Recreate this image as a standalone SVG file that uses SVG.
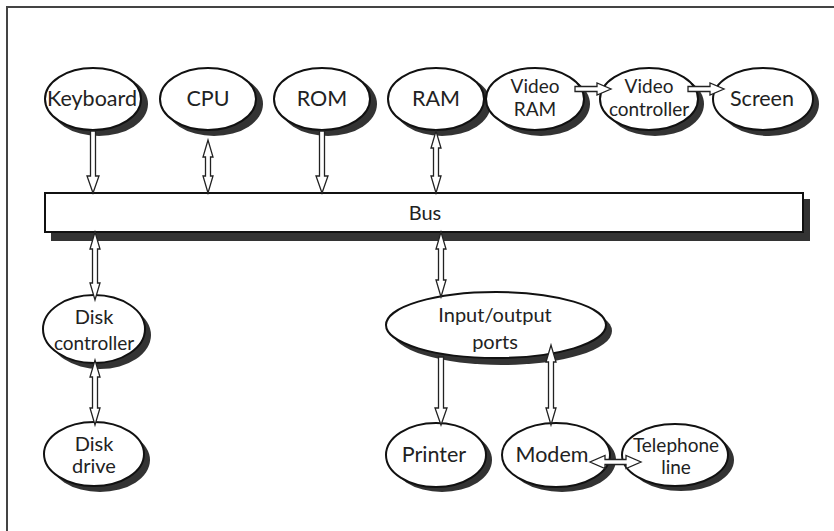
<svg xmlns="http://www.w3.org/2000/svg" width="834" height="531" viewBox="0 0 834 531">
<style>
.sh{fill:#333;}
.nd{fill:#fff;stroke:#111;stroke-width:2;}
.t{font-family:Lato,"Liberation Sans",sans-serif;font-size:20px;fill:#222;text-anchor:middle;}
.t1{font-size:21.5px;}
.t2{font-size:19px;}
.ar{fill:#fff;stroke:#222;stroke-width:1.3;stroke-linejoin:miter;}
.fr{stroke:#444;stroke-width:2;fill:none;}
</style>
<rect width="834" height="531" fill="#fff"/>
<path class="fr" d="M7 531 V7 H834"/>

<g id="bus">
<rect class="sh" x="51" y="199" width="759" height="42"/>
<rect class="nd" x="45" y="193" width="758" height="39" stroke-width="1.5"/>
<text class="t" x="425" y="220">Bus</text>
</g>

<g id="keyboard">
<ellipse class="sh" cx="99" cy="104" rx="49" ry="32"/>
<ellipse class="nd" cx="93" cy="99" rx="48" ry="31"/>
<text class="t t1" x="92" y="106">Keyboard</text>
</g>
<g id="cpu">
<ellipse class="sh" cx="214" cy="104" rx="49" ry="32"/>
<ellipse class="nd" cx="208" cy="99" rx="48" ry="31"/>
<text class="t t1" x="208" y="106">CPU</text>
</g>
<g id="rom">
<ellipse class="sh" cx="328" cy="104" rx="49" ry="32"/>
<ellipse class="nd" cx="322" cy="99" rx="48" ry="31"/>
<text class="t t1" x="322" y="106">ROM</text>
</g>
<g id="ram">
<ellipse class="sh" cx="442" cy="104" rx="49" ry="32"/>
<ellipse class="nd" cx="436" cy="99" rx="48" ry="31"/>
<text class="t t1" x="436" y="106">RAM</text>
</g>
<g id="videoram">
<ellipse class="sh" cx="541" cy="104" rx="49" ry="32"/>
<ellipse class="nd" cx="535" cy="99" rx="49" ry="31"/>
<text class="t t2" x="535" y="93">Video</text>
<text class="t t2" x="535" y="116">RAM</text>
</g>
<g id="videocontroller">
<ellipse class="sh" cx="655" cy="104" rx="49" ry="32"/>
<ellipse class="nd" cx="649" cy="99" rx="49" ry="31"/>
<text class="t t2" x="649" y="93">Video</text>
<text class="t t2" x="649" y="116">controller</text>
</g>
<g id="screen">
<ellipse class="sh" cx="769" cy="104" rx="50" ry="32"/>
<ellipse class="nd" cx="763" cy="99" rx="50" ry="31"/>
<text class="t t1" x="762" y="106">Screen</text>
</g>

<g id="diskcontroller">
<ellipse class="sh" cx="100" cy="335" rx="51" ry="34"/>
<ellipse class="nd" cx="94" cy="329" rx="51" ry="34"/>
<text class="t" x="94" y="324">Disk</text>
<text class="t t2" x="94" y="350">controller</text>
</g>
<g id="diskdrive">
<ellipse class="sh" cx="100" cy="460" rx="50" ry="32"/>
<ellipse class="nd" cx="94" cy="454" rx="50" ry="32"/>
<text class="t" x="94" y="451">Disk</text>
<text class="t" x="94" y="473">drive</text>
</g>
<g id="ioports">
<ellipse class="sh" cx="502" cy="331" rx="110" ry="34"/>
<ellipse class="nd" cx="496" cy="325" rx="110" ry="33"/>
<text class="t" x="495" y="322">Input/output</text>
<text class="t" x="495" y="349">ports</text>
</g>
<g id="printer">
<ellipse class="sh" cx="442" cy="460" rx="50" ry="32"/>
<ellipse class="nd" cx="436" cy="455" rx="50" ry="32"/>
<text class="t t1" x="434" y="462">Printer</text>
</g>
<g id="modem">
<ellipse class="sh" cx="562" cy="460" rx="54" ry="32"/>
<ellipse class="nd" cx="556" cy="455" rx="54" ry="32"/>
<text class="t t1" x="552" y="462">Modem</text>
</g>
<g id="telephone">
<ellipse class="sh" cx="681" cy="460" rx="53" ry="31"/>
<ellipse class="nd" cx="675" cy="455" rx="53" ry="31"/>
<text class="t t2" x="676" y="452">Telephone</text>
<text class="t t2" x="676" y="474">line</text>
</g>

<g id="connectors">
<path class="ar" d="M90.5 131 H95.5 V176 H99 L93 193 L87 176 H90.5 Z"/>
<path class="ar" d="M205.5 157 H203 L208 140 L213 157 H210.5 V176 H213 L208 193 L203 176 H205.5 Z"/>
<path class="ar" d="M319.5 131 H324.5 V176 H328 L322 193 L316 176 H319.5 Z"/>
<path class="ar" d="M433.5 148 H431 L436 131 L441 148 H438.5 V176 H441 L436 193 L431 176 H433.5 Z"/>
<path class="ar" d="M575 86.5 V91.5 H597 V95 L611 89 L597 83 V86.5 Z"/>
<path class="ar" d="M688 86.5 V91.5 H710 V95 L724 89 L710 83 V86.5 Z"/>
<path class="ar" d="M92.5 249 H90 L95 232 L100 249 H97.5 V283 H100 L95 300 L90 283 H92.5 Z"/>
<path class="ar" d="M92.5 377 H90 L95 360 L100 377 H97.5 V408 H100 L95 425 L90 408 H92.5 Z"/>
<path class="ar" d="M438.5 249 H436 L441 232 L446 249 H443.5 V280 H446 L441 297 L436 280 H438.5 Z"/>
<path class="ar" d="M438.5 357 H443.5 V408 H447 L441 425 L435 408 H438.5 Z"/>
<path class="ar" d="M548.5 362 H546 L551 345 L556 362 H553.5 V408 H556 L551 425 L546 408 H548.5 Z"/>
<path class="ar" d="M605 459.5 V455.5 L590 462 L605 468.5 V464.5 H626 V468.5 L641 462 L626 455.5 V459.5 Z"/>
</g>
</svg>
